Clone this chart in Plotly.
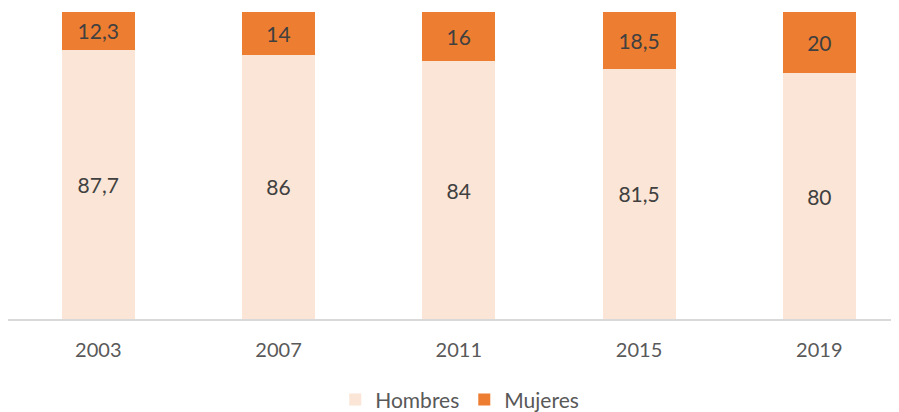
import plotly.graph_objects as go

years = ["2003", "2007", "2011", "2015", "2019"]
hombres = [87.7, 86, 84, 81.5, 80]
mujeres = [12.3, 14, 16, 18.5, 20]
hombres_lbl = ["87,7", "86", "84", "81,5", "80"]
mujeres_lbl = ["12,3", "14", "16", "18,5", "20"]

FONT = "Lato"
fig = go.Figure()
fig.add_trace(go.Bar(x=years, y=hombres, name="Hombres", marker_color="#FBE5D6",
                     text=hombres_lbl, textposition="inside", insidetextanchor="middle",
                     textfont=dict(color="#404040", size=21, family=FONT),
                     width=0.405, marker_line_width=0))
fig.add_trace(go.Bar(x=years, y=mujeres, name="Mujeres", marker_color="#ED7D31",
                     text=mujeres_lbl, textposition="inside", insidetextanchor="middle",
                     textfont=dict(color="#404040", size=21, family=FONT),
                     width=0.405, marker_line_width=0))
fig.update_layout(
    barmode="stack",
    width=891, height=404,
    margin=dict(l=0, r=0, t=4, b=92.5, autoexpand=False),
    plot_bgcolor="white", paper_bgcolor="white",
    font=dict(family=FONT, color="#595959", size=20),
    uniformtext=dict(minsize=8, mode="show"),
    xaxis=dict(type="category", range=[-0.5008, 4.442], showline=True, linecolor="#D9D9D9",
               linewidth=1.5, ticks="", showgrid=False, tickfont=dict(size=20, color="#595959"),
               ticklabelstandoff=12, automargin=False),
    yaxis=dict(range=[0, 100], visible=False, showgrid=False, automargin=False),
    legend=dict(orientation="h", x=0.507, xanchor="center", yref="container", y=0.03,
                yanchor="middle", font=dict(size=21, color="#595959"), traceorder="normal",
                itemwidth=30),
    showlegend=True,
)
fig.write_html("out.html")
